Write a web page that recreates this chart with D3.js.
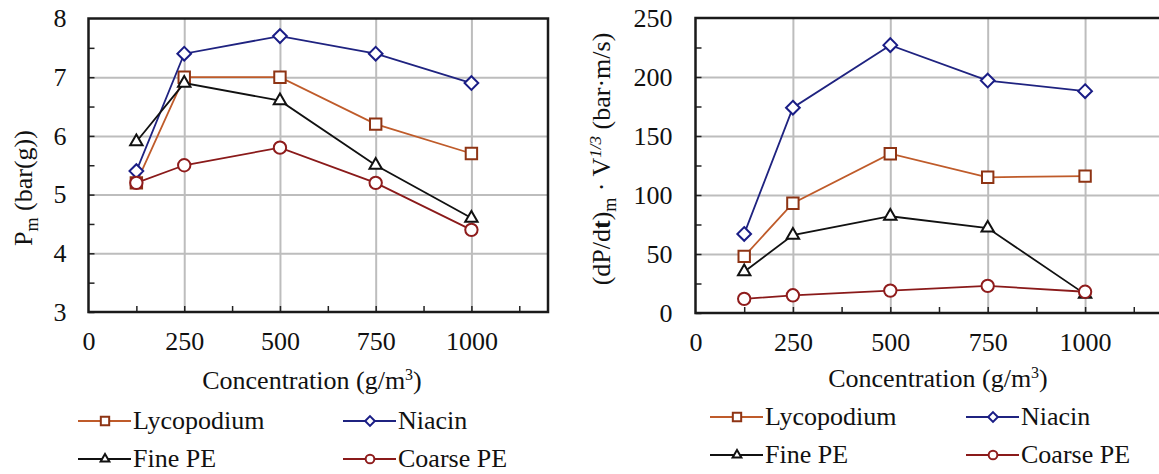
<!doctype html>
<html>
<head>
<meta charset="utf-8">
<script src="https://d3js.org/d3.v7.min.js"></script>
<style>
  body { margin: 0; background: #fff; }
  svg, svg text, svg tspan { font-family: 'Liberation Serif', serif !important; }
  .grid line { stroke: #bdbdbd; stroke-width: 2px; }
  .grid path { display: none; }
  .ticks line { stroke: #222; stroke-width: 1.5px; }
  .ticks path { display: none; }
  .labels path, .labels line { display: none; }
</style>
</head>
<body>
<svg width="1159" height="474" font-family="Liberation Serif"></svg>
<script>
// concentrations (g/m3)
const concentrations = [125, 250, 500, 750, 1000];
const seriesNames = ["Lycopodium", "Niacin", "Fine PE", "Coarse PE"];
const xTickLabels = [0, 250, 500, 750, 1000];

// Pm (bar(g))
const pmLycopodium = [5.2, 7.0, 7.0, 6.2, 5.7];
const pmNiacin     = [5.4, 7.4, 7.7, 7.4, 6.9];
const pmFinePE     = [5.9, 6.9, 6.6, 5.5, 4.6];
const pmCoarsePE   = [5.2, 5.5, 5.8, 5.2, 4.4];
const pmTicks = [3, 4, 5, 6, 7, 8];

// (dP/dt)m * V^1/3 (bar m/s)
const kLycopodium = [48, 93, 135, 115, 116];
const kNiacin     = [67, 174, 227, 197, 188];
const kFinePE     = [35, 66, 82, 72, 16];
const kCoarsePE   = [12, 15, 19, 23, 18];
const kTicks = [0, 50, 100, 150, 200, 250];

const styles = [
  { line: "#bf5b2a", mark: "#8e3414", sym: d3.symbolSquare, size: 130, lsize: 70 },
  { line: "#1f2380", mark: "#1a1d86", sym: d3.symbolDiamond2 || d3.symbolDiamond, size: 120, lsize: 60 },
  { line: "#111111", mark: "#111111", sym: d3.symbolTriangle2 || d3.symbolTriangle, size: 110, lsize: 55 },
  { line: "#8a1a1a", mark: "#8f1c1c", sym: d3.symbolCircle, size: 120, lsize: 60 }
];

const FONT = "Liberation Serif";
const svg = d3.select("svg");

function label(sel) {
  return sel.attr("font-family", FONT).attr("font-size", 26).attr("fill", "#111");
}

function drawChart(cfg) {
  const x = d3.scaleLinear().domain([0, 1200]).range([cfg.left, cfg.right]);
  const y = d3.scaleLinear().domain(cfg.yDomain).range([cfg.bottom, cfg.top]);
  const g = svg.append("g");
  const w = cfg.right - cfg.left, h = cfg.bottom - cfg.top;

  // grid
  g.append("g").attr("class", "grid")
    .attr("transform", `translate(${cfg.left},0)`)
    .call(d3.axisLeft(y).tickValues(cfg.yTicks.slice(1, -1)).tickSize(-w).tickFormat(""));
  g.append("g").attr("class", "grid")
    .attr("transform", `translate(0,${cfg.top})`)
    .call(d3.axisTop(x).tickValues([250, 500, 750, 1000]).tickSize(-h).tickFormat(""));

  // inner minor ticks
  g.append("g").attr("class", "ticks")
    .attr("transform", `translate(0,${cfg.bottom})`)
    .call(d3.axisBottom(x).tickValues(d3.range(125, 1200, 125)).tickSize(-6).tickFormat(""));
  g.append("g").attr("class", "ticks")
    .attr("transform", `translate(${cfg.left},0)`)
    .call(d3.axisLeft(y).tickValues(d3.range(cfg.yDomain[0], cfg.yDomain[1], cfg.minor)).tickSize(-6).tickFormat(""));

  // frame
  g.append("rect")
    .attr("x", cfg.left).attr("y", cfg.top).attr("width", w).attr("height", h)
    .attr("fill", "none").attr("stroke", "#1a1a1a").attr("stroke-width", 2.5);

  // tick labels
  const xl = g.append("g").attr("class", "labels")
    .attr("transform", `translate(0,${cfg.bottom})`)
    .call(d3.axisBottom(x).tickValues(xTickLabels).tickSize(0).tickPadding(20).tickFormat(d3.format("d")));
  const yl = g.append("g").attr("class", "labels")
    .attr("transform", `translate(${cfg.left},0)`)
    .call(d3.axisLeft(y).tickValues(cfg.yTicks).tickSize(0).tickPadding(cfg.yPad).tickFormat(d3.format("d")));
  label(xl); label(yl);
  label(xl.selectAll("text")); label(yl.selectAll("text"));

  // series
  const line = d3.line().x(d => x(d[0])).y(d => y(d[1]));
  cfg.series.forEach((vals, i) => {
    const st = styles[i];
    const pts = concentrations.map((c, j) => [c, vals[j]]);
    g.append("path").datum(pts)
      .attr("d", line).attr("fill", "none")
      .attr("stroke", st.line).attr("stroke-width", 1.8);
    g.selectAll(null).data(pts).enter().append("path")
      .attr("d", d3.symbol().type(st.sym).size(st.size))
      .attr("transform", d => `translate(${x(d[0])},${y(d[1])})`)
      .attr("fill", "#fff").attr("stroke", st.mark).attr("stroke-width", 2);
  });

  // x title
  const xt = label(g.append("text")).attr("x", cfg.xTitleX).attr("y", cfg.xTitleY)
    .attr("text-anchor", "middle").text("Concentration (g/m");
  xt.append("tspan").attr("dy", -9).attr("font-size", 16).text("3");
  xt.append("tspan").attr("dy", 9).text(")");

  // y title
  const yt = label(g.append("text"))
    .attr("transform", `translate(${cfg.yTitleX},${cfg.yTitleY}) rotate(-90)`)
    .attr("text-anchor", "middle");
  cfg.yTitle(yt);

  // legend
  seriesNames.forEach((name, i) => {
    const st = styles[i];
    const lx = cfg.legX[i % 2], ly = cfg.legY[Math.floor(i / 2)];
    const lg = g.append("g");
    lg.append("line").attr("x1", lx).attr("x2", lx + 53).attr("y1", ly).attr("y2", ly)
      .attr("stroke", st.line).attr("stroke-width", 2);
    lg.append("path").attr("d", d3.symbol().type(st.sym).size(st.lsize))
      .attr("transform", `translate(${lx + 27},${ly})`)
      .attr("fill", "#fff").attr("stroke", st.mark).attr("stroke-width", 2);
    label(lg.append("text")).attr("x", lx + 55).attr("y", ly + 8).text(name);
  });
}

drawChart({
  left: 88.5, right: 548, top: 18.5, bottom: 312,
  yDomain: [3, 8], yTicks: pmTicks, minor: 0.5, yPad: 22,
  series: [pmLycopodium, pmNiacin, pmFinePE, pmCoarsePE],
  xTitleX: 312, xTitleY: 389,
  yTitleX: 32, yTitleY: 188,
  yTitle: t => {
    t.append("tspan").text("P");
    t.append("tspan").attr("dy", 6).attr("font-size", 18).text("m");
    t.append("tspan").attr("dy", -6).text(" (bar(g))");
  },
  legX: [78, 343], legY: [421, 459]
});

drawChart({
  left: 695.5, right: 1163, top: 18, bottom: 313,
  yDomain: [0, 250], yTicks: kTicks, minor: 25, yPad: 23,
  series: [kLycopodium, kNiacin, kFinePE, kCoarsePE],
  xTitleX: 938, xTitleY: 387,
  yTitleX: 610, yTitleY: 159,
  yTitle: t => {
    t.append("tspan").text("(dP/d");
    t.append("tspan").attr("font-weight", "bold").text("t");
    t.append("tspan").text(")");
    t.append("tspan").attr("dy", 6).attr("font-size", 18).text("m");
    t.append("tspan").attr("dy", -6).text(" \u00b7 V");
    t.append("tspan").attr("dy", -9).attr("font-size", 17).attr("font-style", "italic").text("1/3");
    t.append("tspan").attr("dy", 9).text(" (bar\u00b7m/s)");
  },
  legX: [710, 966], legY: [417, 455]
});
</script>
</body>
</html>
